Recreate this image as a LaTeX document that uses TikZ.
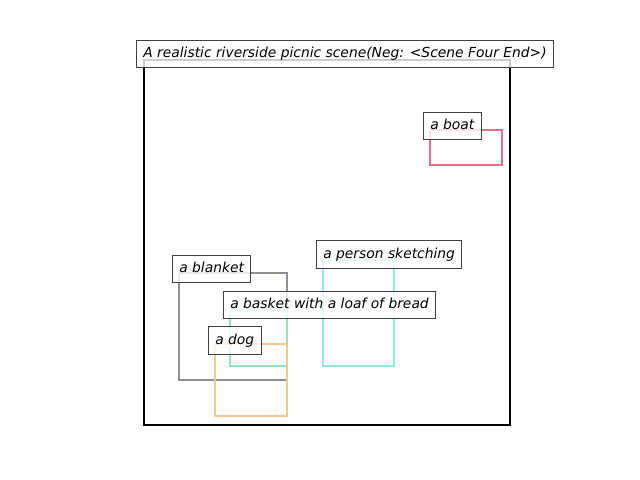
\documentclass[tikz,border=0pt]{standalone}
\usepackage{fontspec}
\setmainfont{DejaVu Sans}
\begin{document}
\begin{tikzpicture}[x=0.01in,y=-0.01in,
  lbl/.style={draw=black!75,line width=0.72pt,fill=white,fill opacity=0.8,text opacity=1,
    font=\itshape\fontsize{10pt}{12pt}\selectfont,text height=7.6pt,text depth=2.4pt,
    inner xsep=4.9pt,inner ysep=5pt},
  bx/.style={line width=1.44pt}]
\useasboundingbox (0,0) rectangle (640,480);
\definecolor{cboat}{RGB}{238,107,138}
\definecolor{cblanket}{RGB}{147,141,150}
\definecolor{cperson}{RGB}{147,232,228}
\definecolor{cbasket}{RGB}{150,224,192}
\definecolor{cdog}{RGB}{242,201,140}
% frame
\draw[line width=1.5pt] (144,60) rectangle (510,425);
% boxes
\draw[bx,cboat] (430,130) rectangle (502,165);
\draw[bx,cblanket] (179,273) rectangle (287,380);
\draw[bx,cperson] (323,260) rectangle (394,366);
\draw[bx,cbasket] (230,310) rectangle (287,366);
\draw[bx,cdog] (215,344) rectangle (287,416);
% labels
\node[lbl] (title) at (345,54) {A realistic riverside picnic scene(Neg: <Scene Four End>)};
\node[lbl,anchor=west] (boat) at (423,126) {a boat};
\node[lbl,anchor=west] (blanket) at (172,269) {a blanket};
\node[lbl,anchor=west] (person) at (316,254.5) {a person sketching};
\node[lbl,anchor=west] (basket) at (223,305) {a basket with a loaf of bread};
\node[lbl,anchor=west] (dog) at (208,340.5) {a dog};
\end{tikzpicture}
\end{document}
